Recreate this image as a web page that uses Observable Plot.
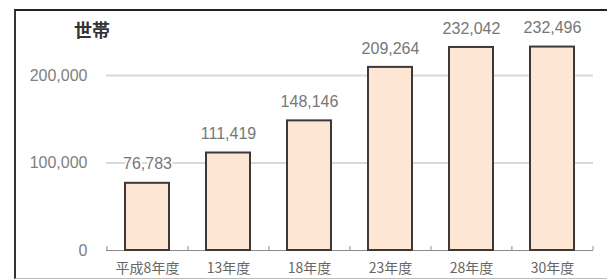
<!DOCTYPE html>
<html>
<head>
<meta charset="utf-8">
<script src="https://cdn.jsdelivr.net/npm/d3@7"></script>
<script src="https://cdn.jsdelivr.net/npm/@observablehq/plot@0.6"></script>
<style>
  html, body { margin: 0; padding: 0; background: #fff; }
  #wrap { position: relative; width: 607px; height: 279px; overflow: hidden; }
  #frame { position: absolute; left: 14px; top: 9px; width: 600px; height: 267px;
           border-top: 2px solid #222; border-left: 2px solid #333; border-bottom: 1px solid #bbb; }
  #chart { position: absolute; left: 0; top: 0; }
</style>
</head>
<body>
<div id="wrap"><div id="frame"></div><div id="chart"></div></div>
<script>
const categories = ["平成8年度", "13年度", "18年度", "23年度", "28年度", "30年度"];
const households = [76783, 111419, 148146, 209264, 232042, 232496];
const yTicks = [0, 100000, 200000];
const unitLabel = "世帯";

const data = categories.map((c, i) => ({category: c, value: households[i]}));

const W = 607, H = 279;
const mL = 106, mR = 14, mT = 31.25, mB = 29;
const step = (W - mL - mR) / categories.length;
const fmt = d3.format(",");
const font = "'Liberation Sans', Arial, 'Noto Sans CJK JP', sans-serif";

const chart = Plot.plot({
  width: W, height: H,
  marginLeft: mL, marginRight: mR, marginTop: mT, marginBottom: mB,
  style: {fontFamily: font, background: "transparent", overflow: "visible"},
  x: {domain: categories, paddingInner: 0.46, paddingOuter: 0.23, axis: null},
  y: {domain: [0, 250000], axis: null},
  marks: [
    Plot.gridY(yTicks.filter(d => d > 0), {stroke: "#d9d9d9", strokeOpacity: 1, strokeWidth: 2}),
    Plot.ruleY([0], {stroke: "#8a8a8a", strokeWidth: 1}),
    Plot.ruleX(categories, {x: d => d, dx: -step / 2, y1: 0, y2: 0, insetTop: -4, stroke: "#8a8a8a"}),
    Plot.ruleX(categories.slice(-1), {x: d => d, dx: step / 2, y1: 0, y2: 0, insetTop: -4, stroke: "#8a8a8a"}),
    Plot.barY(data, {x: "category", y: "value", fill: "#fde6d4", stroke: "#3f3838", strokeWidth: 2}),
    Plot.text(data, {x: "category", y: "value", text: d => fmt(d.value), dy: -19,
      fill: "#777", fontSize: 16, stroke: "white", strokeWidth: 4, paintOrder: "stroke"}),
    Plot.axisY(yTicks, {tickSize: 0, tickPadding: 19, tickFormat: fmt, fontSize: 16, color: "#808080", label: null}),
    Plot.axisX({tickSize: 0, tickPadding: 13, fontSize: 14, color: "#666", label: null,
      fontFamily: "'Noto Sans CJK JP', sans-serif"}),
    Plot.text([unitLabel], {frameAnchor: "top-left", textAnchor: "middle", lineAnchor: "middle",
      dx: -14.5, dy: -1, text: d => d,
      fontSize: 18, fontWeight: "bold", fill: "#333", fontFamily: "'Noto Sans CJK JP', sans-serif"})
  ]
});
document.getElementById("chart").appendChild(chart);
</script>
</body>
</html>
